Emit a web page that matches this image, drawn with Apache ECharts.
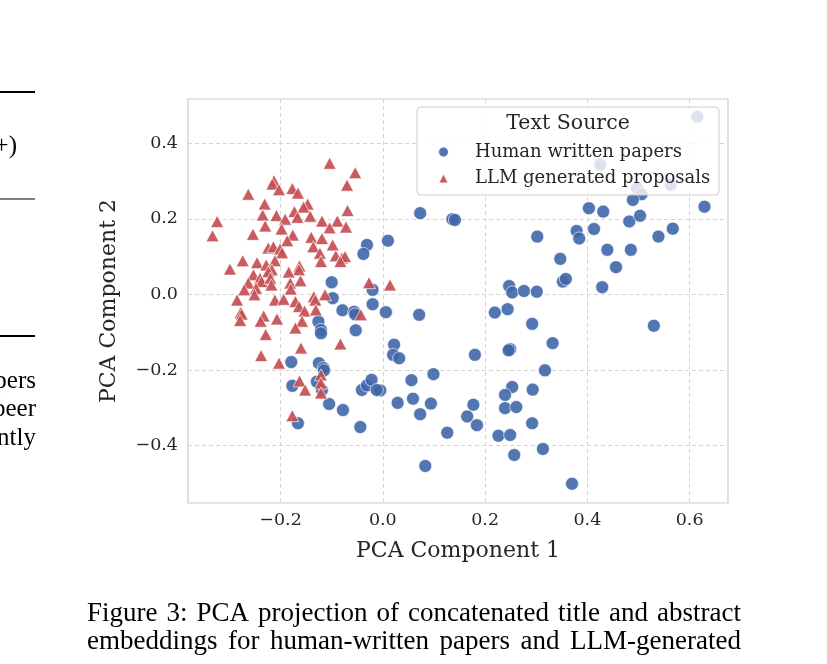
<!DOCTYPE html>
<html><head><meta charset="utf-8">
<script src="https://cdn.jsdelivr.net/npm/echarts@6/dist/echarts.min.js"></script>
<style>html,body{margin:0;padding:0;background:#fff}#c{width:827px;height:664px}</style>
</head><body><div id="c"></div><script>
const seriesNames = ['Human written papers', 'LLM generated proposals'];
const xTicks = [-0.2, 0, 0.2, 0.4, 0.6];
const yTicks = [-0.4, -0.2, 0, 0.2, 0.4];
const xAxisTitle = 'PCA Component 1';
const yAxisTitle = 'PCA Component 2';
const legendTitle = 'Text Source';
const captionLines = ['Figure 3: PCA projection of concatenated title and abstract',
  'embeddings for human-written papers and LLM-generated'];
const sideTexts = ['+)', 'pers', 'peer', 'ntly'];

const humanPoints = [
[0.615,0.470],[0.425,0.343],[0.497,0.281],[0.506,0.265],[0.563,0.290],[0.489,0.250],[0.403,0.228],[0.431,0.219],[0.629,0.232],[0.302,0.153],
[0.379,0.168],[0.384,0.148],[0.413,0.173],[0.482,0.193],[0.503,0.208],[0.539,0.153],[0.567,0.174],[0.439,0.118],[0.485,0.118],[0.456,0.072],
[0.347,0.094],[0.352,0.034],[0.358,0.041],[0.429,0.019],[0.247,0.022],[0.253,0.005],[0.276,0.009],[0.301,0.007],[0.219,-0.048],[0.244,-0.039],
[0.292,-0.078],[0.332,-0.129],[0.180,-0.160],[0.249,-0.145],[0.246,-0.148],[0.317,-0.201],[0.530,-0.083],[0.253,-0.245],[0.293,-0.252],[0.239,-0.266],
[0.177,-0.292],[0.165,-0.323],[0.184,-0.346],[0.239,-0.301],[0.261,-0.298],[0.292,-0.341],[0.226,-0.374],[0.249,-0.372],[0.313,-0.409],[0.257,-0.425],
[0.370,-0.501],[0.022,-0.133],[0.020,-0.160],[0.032,-0.169],[-0.005,-0.254],[0.056,-0.227],[0.099,-0.211],[0.029,-0.287],[0.059,-0.276],[0.094,-0.289],
[0.073,-0.317],[0.126,-0.366],[0.083,-0.454],[0.073,0.215],[0.136,0.199],[0.141,0.197],[0.010,0.142],[-0.031,0.131],[-0.038,0.107],[-0.100,0.032],
[-0.020,0.012],[-0.098,-0.010],[-0.020,-0.026],[-0.079,-0.042],[-0.056,-0.046],[-0.054,-0.053],[0.006,-0.047],[0.071,-0.054],[-0.126,-0.072],[-0.121,-0.094],
[-0.121,-0.103],[-0.053,-0.095],[-0.179,-0.179],[-0.125,-0.182],[-0.116,-0.195],[-0.115,-0.201],[-0.177,-0.242],[-0.129,-0.231],[-0.119,-0.253],[-0.105,-0.290],
[-0.078,-0.306],[-0.041,-0.253],[-0.031,-0.241],[-0.022,-0.226],[-0.012,-0.253],[-0.166,-0.341],[-0.044,-0.351]
];

const llmPoints = [
[-0.104,0.347],[-0.054,0.322],[-0.070,0.289],[-0.213,0.301],[-0.216,0.292],[-0.203,0.277],[-0.263,0.265],[-0.177,0.280],[-0.166,0.268],[-0.231,0.239],
[-0.147,0.239],[-0.155,0.231],[-0.173,0.219],[-0.069,0.222],[-0.235,0.210],[-0.208,0.209],[-0.191,0.199],[-0.167,0.204],[-0.142,0.207],[-0.119,0.194],
[-0.089,0.194],[-0.104,0.176],[-0.072,0.178],[-0.324,0.193],[-0.333,0.155],[-0.254,0.159],[-0.230,0.181],[-0.198,0.173],[-0.176,0.157],[-0.187,0.142],
[-0.140,0.151],[-0.119,0.148],[-0.098,0.131],[-0.136,0.126],[-0.224,0.123],[-0.214,0.126],[-0.201,0.120],[-0.197,0.110],[-0.123,0.109],[-0.121,0.087],
[-0.092,0.102],[-0.080,0.096],[-0.074,0.100],[-0.083,0.087],[-0.274,0.089],[-0.246,0.084],[-0.299,0.067],[-0.228,0.078],[-0.211,0.089],[-0.217,0.065],
[-0.224,0.060],[-0.163,0.075],[-0.164,0.065],[-0.184,0.059],[-0.253,0.052],[-0.263,0.030],[-0.240,0.043],[-0.237,0.034],[-0.248,0.016],[-0.271,0.012],
[-0.220,0.043],[-0.218,0.025],[-0.181,0.030],[-0.180,0.014],[-0.161,0.036],[-0.285,-0.015],[-0.251,-0.001],[-0.211,-0.015],[-0.194,-0.013],[-0.171,-0.019],
[-0.135,-0.006],[-0.132,-0.015],[-0.113,-0.001],[-0.164,-0.032],[-0.153,-0.044],[-0.131,-0.041],[-0.043,-0.054],[-0.278,-0.048],[-0.276,-0.052],[-0.279,-0.069],
[-0.233,-0.057],[-0.239,-0.071],[-0.207,-0.065],[-0.158,-0.071],[-0.171,-0.089],[-0.229,-0.106],[-0.160,-0.142],[-0.238,-0.162],[-0.203,-0.182],[-0.083,-0.131],
[-0.163,-0.229],[-0.152,-0.253],[-0.121,-0.213],[-0.121,-0.235],[-0.121,-0.261],[-0.177,-0.321],[-0.027,0.031],[0.014,0.025]
];

const CHART_FONT = "'DejaVu Serif', serif";
const PAPER_FAMILY = "'Liberation Serif'";
const CAPTION_SIZE = 27;
const SIDE_SIZE = 25;
const TXT = '#262626';
const BLUE = '#3f67a8';
const RED = '#C44E52';
const fmt = v => (v < 0 ? '\u2212' : '') + Math.abs(v).toFixed(1);

// justified caption line: words spread between left and right edges
function justifiedLine(text, left, right, y) {
  const ctx = document.createElement('canvas').getContext('2d');
  ctx.font = CAPTION_SIZE + 'px ' + PAPER_FAMILY;
  const words = text.split(' ');
  const widths = words.map(w => ctx.measureText(w).width);
  const total = widths.reduce((a, b) => a + b, 0);
  const gap = (right - left - total) / (words.length - 1);
  let x = left;
  return words.map((w, i) => {
    const el = {type: 'text', x: x, y: y,
      style: {text: w, fill: '#000', fontFamily: PAPER_FAMILY, fontSize: CAPTION_SIZE, align: 'left', verticalAlign: 'middle'}};
    x += widths[i] + gap;
    return el;
  });
}
function sideText(t, x, y, align) {
  return {type: 'text', x: x, y: y,
    style: {text: t, fill: '#000', fontFamily: PAPER_FAMILY, fontSize: SIDE_SIZE, align: align, verticalAlign: 'middle'}};
}

const chart = echarts.init(document.getElementById('c'), null, {renderer: 'canvas'});
const axisCommon = {
  type: 'value',
  axisLine: {show: false},
  nameLocation: 'middle',
  nameTextStyle: {fontFamily: CHART_FONT, fontSize: 22, color: TXT},
  splitLine: {show: true, lineStyle: {color: '#d4d4d4', width: 1, type: [4, 3]}}
};
chart.setOption({
  animation: false,
  backgroundColor: '#ffffff',
  grid: {left: 188, top: 99, width: 540, height: 404, show: true, borderColor: '#cccccc', borderWidth: 1.2, containLabel: false},
  xAxis: Object.assign({}, axisCommon, {
    min: -0.381, max: 0.675,
    name: xAxisTitle, nameGap: 37,
    axisTick: {show: false, customValues: xTicks},
    axisLabel: {customValues: xTicks, formatter: fmt, margin: 8, fontFamily: CHART_FONT, fontSize: 17.5, color: TXT}
  }),
  yAxis: Object.assign({}, axisCommon, {
    min: -0.552, max: 0.517,
    name: yAxisTitle, nameGap: 68,
    axisTick: {show: false, customValues: yTicks},
    axisLabel: {customValues: yTicks, formatter: fmt, margin: 10, fontFamily: CHART_FONT, fontSize: 17.5, color: TXT}
  }),
  legend: {
    data: [{name: seriesNames[0], icon: 'circle'}, {name: seriesNames[1], icon: 'triangle'}],
    orient: 'vertical', left: 437, top: 143, padding: 0,
    itemWidth: 11, itemHeight: 11, itemGap: 8,
    textStyle: {fontFamily: CHART_FONT, fontSize: 18, color: TXT, padding: [0, 0, 0, 21]},
    z: 10
  },
  series: [
    {type: 'scatter', name: seriesNames[0], data: humanPoints, symbol: 'circle', symbolSize: 13,
     itemStyle: {color: BLUE, opacity: 0.9, borderColor: '#ffffff', borderWidth: 0.7}, z: 2},
    {type: 'scatter', name: seriesNames[1], data: llmPoints, symbol: 'triangle', symbolSize: [13, 12],
     itemStyle: {color: RED, opacity: 0.92, borderColor: '#ffffff', borderWidth: 0.7}, z: 2}
  ],
  graphic: [
    {type: 'rect', z: 5, shape: {x: 417, y: 107, width: 302, height: 88, r: 4},
     style: {fill: 'rgba(255,255,255,0.8)', stroke: '#cccccc', lineWidth: 1}},
    {type: 'text', z: 11, x: 568, y: 124,
     style: {text: legendTitle, fill: TXT, fontFamily: CHART_FONT, fontSize: 20.5, align: 'center', verticalAlign: 'middle'}},
    {type: 'rect', shape: {x: 0, y: 91, width: 35, height: 2}, style: {fill: '#000'}},
    {type: 'rect', shape: {x: 0, y: 198.5, width: 35, height: 1}, style: {fill: '#000'}},
    {type: 'rect', shape: {x: 0, y: 335, width: 35, height: 2}, style: {fill: '#000'}},
    sideText(sideTexts[0], 17, 146, 'right'),
    sideText(sideTexts[1], 36, 381, 'right'),
    sideText(sideTexts[2], 36, 409, 'right'),
    sideText(sideTexts[3], 36, 438, 'right')
  ].concat(justifiedLine(captionLines[0], 87, 741, 614))
   .concat(justifiedLine(captionLines[1], 87, 741, 642))
});
</script></body></html>
